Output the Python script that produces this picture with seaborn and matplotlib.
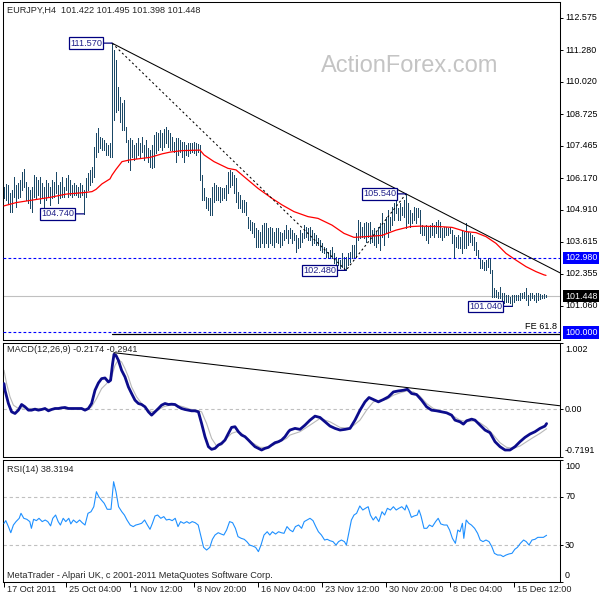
import numpy as np
import matplotlib
matplotlib.use("Agg")
import matplotlib.pyplot as plt
import seaborn as sns

sns.set_theme(style="white")
plt.rcParams["font.family"] = ["Liberation Sans", "DejaVu Sans"]

# ---------------- data ----------------
highs = [
    105.83, 105.94, 105.90, 105.56, 105.70, 106.23, 105.90, 105.96, 106.10, 106.43,
    106.52, 106.03, 105.83, 105.70, 105.83, 106.30, 106.23, 106.10, 106.23, 105.96,
    105.83, 106.10, 105.96, 105.83, 106.10, 106.03, 106.43, 105.90, 106.03, 106.23,
    105.83, 106.16, 106.30, 106.10, 105.90, 105.96, 105.90, 105.83, 105.96, 105.90,
    105.70, 106.16, 106.36, 106.50, 106.63, 107.43, 107.96, 108.16, 107.83, 107.76,
    107.70, 107.56, 107.50, 107.56, 111.57, 111.30, 110.90, 109.83, 109.43, 109.16,
    109.30, 108.23, 107.70, 107.76, 107.70, 107.50, 107.56, 107.76, 107.56, 107.83,
    107.50, 107.70, 107.36, 107.30, 107.50, 107.89, 108.03, 107.96, 108.10, 107.96,
    108.12, 108.23, 108.10, 107.96, 107.83, 107.63, 107.76, 107.76, 107.70, 107.63,
    107.63, 107.50, 107.56,
    107.59, 107.56, 107.63, 107.59, 107.53, 107.50, 106.29, 105.76, 105.43, 105.36,
    105.36, 105.83, 105.96, 105.89, 105.83, 105.83, 105.76, 105.76, 105.89, 106.43,
    106.50, 106.43, 106.29, 106.16, 105.63, 105.50, 105.29, 105.29, 105.23, 104.63,
    104.50, 104.43, 104.36, 104.16, 104.09, 104.03, 104.29, 104.36, 104.36, 104.16,
    104.23, 104.16, 104.03, 104.16, 104.16, 104.03, 103.96, 104.09, 104.29, 104.09,
    104.16, 104.09, 103.96, 103.89, 103.76, 104.09, 103.96, 104.29, 104.23, 104.16,
    104.23, 104.09, 103.96, 103.89, 103.76, 103.69, 103.56, 103.43, 103.36, 103.23,
    103.29, 103.43, 103.16, 103.03, 102.96, 102.89, 103.16, 103.03, 103.03, 103.16,
    103.23, 103.50, 103.50, 103.96, 104.50, 104.43, 104.23, 104.36, 104.43, 104.36,
    104.43, 104.09,
    104.16, 104.03, 104.23, 104.36, 104.76, 104.36, 104.63, 104.89, 104.63, 105.03,
    105.16, 105.43, 104.96, 105.16, 105.03, 105.29, 105.54, 105.16, 104.89, 104.76,
    105.03, 104.96, 104.96, 104.89, 104.29, 104.23, 104.29, 104.23, 104.29, 104.36,
    104.29, 104.43, 104.49, 104.43, 104.16, 104.23, 104.23, 104.16, 104.23, 104.09,
    103.89, 103.83, 103.89, 103.83, 104.09, 104.03, 104.36, 104.03, 103.96, 103.89,
    103.83, 103.63, 103.29, 102.96, 102.89, 102.83, 102.89, 102.96, 102.96, 102.49,
    101.76, 101.69, 101.63, 101.83, 101.56, 101.56, 101.49, 101.49, 101.43, 101.49,
    101.49, 101.49, 101.49, 101.56, 101.56, 101.63, 101.76, 101.49, 101.56, 101.56,
    101.49, 101.56, 101.59, 101.53, 101.49, 101.53, 101.49,
]
lows = [
    105.36, 105.30, 105.16, 104.80, 104.80, 105.43, 105.03, 105.36, 105.43, 105.70,
    105.83, 105.30, 105.16, 104.96, 104.83, 105.43, 105.36, 105.50, 105.16, 105.43,
    104.96, 105.30, 105.43, 105.10, 105.36, 105.43, 105.56, 105.16, 105.36, 105.43,
    105.43, 105.70, 105.43, 105.50, 105.43, 105.50, 105.50, 105.40, 105.43, 105.50,
    104.74, 105.43, 105.70, 105.90, 106.03, 106.23, 107.03, 107.23, 107.36, 107.30,
    107.30, 107.10, 107.10, 107.03, 107.03, 108.50, 108.83, 108.89, 108.43, 108.10,
    108.10, 107.63, 106.83, 106.50, 107.03, 106.89, 106.96, 107.10, 107.03, 107.23,
    106.89, 107.03, 106.83, 106.63, 106.56, 106.63, 107.16, 107.30, 107.43, 107.30,
    107.43, 107.56, 107.43, 107.30, 107.30, 107.23, 106.83, 107.10, 107.23, 107.03,
    106.83, 107.10, 107.06,
    107.16, 107.23, 107.16, 107.10, 107.23, 106.09, 105.29, 105.29, 104.96, 104.89,
    104.69, 104.69, 105.23, 105.29, 105.29, 105.23, 105.29, 105.36, 105.29, 105.56,
    105.83, 105.89, 105.56, 105.23, 104.96, 104.96, 104.83, 104.83, 104.69, 104.16,
    104.09, 103.96, 103.83, 103.43, 103.43, 103.43, 103.56, 103.43, 103.56, 103.43,
    103.56, 103.50, 103.43, 103.63, 103.56, 103.43, 103.50, 103.69, 103.76, 103.56,
    103.76, 103.56, 103.69, 103.23, 103.36, 103.43, 103.63, 103.76, 103.83, 103.69,
    103.69, 103.50, 103.56, 103.50, 103.50, 103.29, 103.23, 103.16, 103.03, 102.96,
    103.03, 102.96, 102.76, 102.63, 102.69, 102.56, 102.63, 102.50, 102.48, 102.69,
    102.83, 102.96, 102.96, 103.03, 103.69, 103.76, 103.83, 103.76, 103.63, 103.83,
    103.56, 103.63,
    103.50, 103.43, 103.56, 103.29, 103.83, 103.50, 103.96, 103.83, 104.09, 104.29,
    104.49, 104.76, 104.49, 104.49, 104.69, 104.63, 104.16, 104.36, 104.23, 104.36,
    104.49, 104.36, 104.63, 103.96, 103.89, 103.89, 103.69, 103.56, 103.83, 103.89,
    103.83, 103.96, 103.83, 103.83, 103.69, 103.83, 103.89, 103.89, 103.96, 103.56,
    102.96, 103.43, 103.36, 103.36, 103.16, 103.36, 103.36, 103.49, 103.63, 103.49,
    103.29, 103.09, 102.96, 102.56, 102.56, 102.49, 102.49, 102.63, 102.36, 101.43,
    101.43, 101.43, 101.36, 101.36, 101.23, 101.16, 101.23, 101.23, 101.16, 101.04,
    101.23, 101.29, 101.29, 101.29, 101.36, 101.36, 101.29, 101.09, 101.29, 101.36,
    101.29, 101.23, 101.29, 101.32, 101.36, 101.36, 101.40,
]

ma_bar = [0, 6, 14, 23, 31, 41, 44, 46, 49, 53, 54, 56, 59, 63, 73, 79, 83, 89, 98, 100,
          105, 112, 116, 120, 127, 134, 139, 145, 152, 157, 164, 170, 175, 181, 189, 196,
          203, 208, 218, 224, 231, 236, 241, 246, 251, 256, 261, 266, 270, 271]
ma_val = [105.06, 105.19, 105.29, 105.40, 105.53, 105.60, 105.63, 105.72, 105.94, 106.14,
          106.29, 106.52, 106.83, 106.90, 107.00, 107.14, 107.21, 107.27, 107.29, 107.10,
          106.83, 106.56, 106.50, 106.23, 105.76, 105.36, 105.10, 104.83, 104.63, 104.56,
          104.29, 103.96, 103.80, 103.83, 103.88, 104.09, 104.23, 104.25, 104.23, 104.20,
          104.03, 103.99, 103.83, 103.56, 103.16, 102.89, 102.63, 102.43, 102.30, 102.28]

macd_bar = [0, 0.5, 2.2, 3.8, 5.5, 7.2, 8.8, 10.5, 12.2, 13.8,
            15.5, 17.2, 18.8, 20.5, 22.2, 23.8, 25.5, 27.2, 28.8, 30.5,
            32.2, 33.8, 35.5, 37.2, 38.8, 40.5, 42.2, 43.8, 45.5, 47.2,
            48.8, 50.5, 52.2, 53.3, 54.3, 55.0, 56.0, 57.2, 58.8, 60.5,
            62.2, 63.8, 65.5, 67.2, 68.8, 70.5, 72.2, 73.8, 75.5, 77.2,
            78.8, 80.5, 82.2, 83.8, 85.5, 87.2, 88.8, 90.5, 92.2, 93.8,
            95.5, 97.2, 98.8, 100.5, 102.2, 103.8, 105.5, 107.2, 108.8, 110.5,
            112.2, 113.8, 115.5, 117.2, 118.8, 120.5, 122.2, 123.8, 125.5, 127.2,
            128.8, 130.5, 132.2, 133.8, 135.5, 137.2, 138.8, 140.5, 142.2,
            143, 145.5, 148, 150.5, 153, 155.5, 158, 160.5, 163, 165.5,
            168, 170.5, 173, 175.5, 178, 180.5,
            182.5, 184.7, 187.2, 189.7, 192.2, 194.7, 197.2, 199.7, 201.7, 203.8,
            206.3, 208.8, 211.3, 213.8, 216.3, 218.8, 221.3, 223.8, 225.5, 228,
            229.7, 231.3, 233.8, 235.5, 238, 240.5, 243, 245.5, 248, 250.5,
            253, 255.5, 258, 260.5, 263, 265.5, 268, 270.5, 271.3]
macd_val = [0.384, 0.284, 0.085, -0.040, -0.065, -0.015, 0.070, 0.035, -0.015, -0.015,
            0.0, -0.015, -0.005, 0.010, -0.025, -0.005, 0.010, 0.010, 0.020, 0.025,
            0.010, 0.010, 0.010, 0.010, 0.010, -0.015, 0.010, 0.085, 0.284, 0.394,
            0.459, 0.469, 0.409, 0.434, 0.684, 0.824, 0.808, 0.734, 0.584, 0.484,
            0.334, 0.235, 0.135, 0.085, 0.070, 0.035, -0.040, -0.090, -0.040, 0.010,
            0.060, 0.085, 0.070, 0.075, 0.070, 0.035, 0.010, -0.005, -0.015, -0.025,
            -0.025, -0.040, -0.215, -0.414, -0.564, -0.604, -0.589, -0.539, -0.514, -0.464,
            -0.364, -0.274, -0.264, -0.339, -0.389, -0.414, -0.464, -0.514, -0.564, -0.589,
            -0.614, -0.589, -0.574, -0.539, -0.504, -0.489, -0.464, -0.414, -0.339,
            -0.314, -0.289, -0.304, -0.240, -0.165, -0.105, -0.125, -0.190, -0.254, -0.289,
            -0.314, -0.304, -0.289, -0.165, -0.015, 0.110,
            0.175, 0.145, 0.110, 0.145, 0.185, 0.259, 0.274, 0.284, 0.299, 0.235,
            0.220, 0.135, 0.035, -0.015, -0.025, -0.040, -0.055, -0.090, -0.165, -0.190,
            -0.225, -0.175, -0.150, -0.165, -0.240, -0.314, -0.354, -0.489, -0.564, -0.614,
            -0.614, -0.564, -0.489, -0.424, -0.374, -0.339, -0.289, -0.254, -0.217]

sig_bar = [0, 1.3, 3, 4.7, 7.2, 9.7, 13, 18, 23, 28,
           33, 38, 41.3, 43.8, 46.3, 48.8, 51.3, 53.8, 55.5, 57.2,
           58.8, 60.5, 62.2, 63.8, 66.3, 68.8, 71.3, 73.8, 76.3, 79.7,
           83, 86.3, 89.7, 93, 96.3, 98.8, 101.3, 103.8, 106.3, 108.8,
           111.3, 113.8, 116.3, 118.8, 121.3, 124.7, 128, 131.3, 134.7, 138,
           141.3, 143, 148, 153, 158, 163, 168, 173, 178, 181.3,
           184.7, 188, 191.3, 194.7, 198, 201.3, 204.7, 208, 211.3, 214.7,
           218, 221.3, 224.7, 228, 231.3, 234.7, 238, 241.3, 244.7, 248,
           251.3, 254.7, 258, 261.3, 264.7, 268, 271.3]
sig_val = [0.584, 0.384, 0.185, 0.060, 0.010, 0.020, 0.010, 0.010, 0.0, 0.010,
           0.010, 0.010, 0.0, 0.035, 0.160, 0.309, 0.384, 0.484, 0.659, 0.744,
           0.709, 0.609, 0.484, 0.334, 0.185, 0.085, 0.010, -0.040, -0.025, 0.035,
           0.060, 0.060, 0.035, 0.0, -0.015, -0.040, -0.215, -0.439, -0.554, -0.539,
           -0.439, -0.364, -0.339, -0.364, -0.439, -0.514, -0.574, -0.574, -0.539, -0.489,
           -0.439, -0.389, -0.339, -0.240, -0.140, -0.190, -0.274, -0.289, -0.165, -0.015,
           0.110, 0.135, 0.145, 0.210, 0.245, 0.274, 0.259, 0.195, 0.085, 0.010,
           -0.025, -0.055, -0.105, -0.165, -0.190, -0.175, -0.205, -0.274, -0.389, -0.504,
           -0.574, -0.589, -0.554, -0.489, -0.424, -0.364, -0.294]

rsi_pts = [
    (0, 48.1), (0.9, 50.3), (2.2, 45.4), (3.4, 40.4), (4.7, 46.7), (6.0, 49.5), (7.6, 52.2),
    (8.5, 56.3), (9.9, 52.2), (11.4, 51.4), (12.9, 49.5), (13.7, 44.0), (14.8, 51.4),
    (16.2, 50.3), (17.5, 52.2), (19.1, 49.5), (20.6, 50.8), (21.9, 49.5), (23.3, 46.0),
    (24.4, 52.2), (25.8, 54.9), (27.1, 49.5), (28.2, 46.7), (29.6, 52.2), (30.9, 49.5),
    (32.4, 52.2), (33.4, 47.6), (34.7, 50.8), (36.3, 48.6), (37.8, 50.8), (39.1, 48.6),
    (40.5, 46.7), (42.0, 56.3), (43.5, 57.6), (44.9, 61.7), (46.2, 74.0), (47.4, 69.9),
    (48.7, 67.2), (50.1, 64.5), (51.6, 59.6), (53.5, 59.6), (54.8, 82.2), (56.0, 74.0),
    (57.3, 61.7), (58.9, 57.6), (60.2, 54.9), (61.5, 50.8), (63.1, 46.7), (64.6, 45.4),
    (65.9, 46.7), (67.3, 47.3), (68.8, 48.1), (70.3, 50.8), (71.7, 46.7), (73.0, 43.2),
    (74.2, 48.1), (75.5, 54.1), (76.8, 54.9), (78.4, 52.2), (79.9, 53.6), (81.2, 50.8),
    (82.6, 51.4), (84.1, 50.3), (85.6, 52.2), (87.0, 45.4), (88.3, 49.5), (89.9, 48.1),
    (91.4, 49.5), (92.7, 48.1), (94.1, 49.5), (95.6, 48.6), (97.1, 46.7), (98.5, 37.2),
    (99.8, 28.4), (101.3, 26.2), (102.9, 28.4), (104.2, 35.0), (105.5, 38.5), (107.1, 40.4),
    (108.6, 39.3), (109.9, 38.5), (111.3, 42.6), (112.8, 49.5), (114.3, 48.6), (115.7, 44.0),
    (117.0, 37.2), (118.6, 35.8), (120.1, 35.0), (121.4, 33.1), (122.8, 30.3), (124.3, 29.5),
    (125.8, 28.4), (127.2, 24.9), (128.5, 30.3), (130.0, 38.5), (131.6, 41.2), (132.9, 38.5),
    (134.2, 41.2), (135.8, 39.3), (137.3, 41.2), (138.6, 40.4), (140.0, 39.9), (141.5, 45.4),
    (143.0, 42.6), (144.4, 41.2), (145.7, 45.4), (147.3, 46.7), (148.8, 44.0), (150.1, 49.5),
    (151.5, 50.8), (153.0, 52.2), (154.5, 50.3), (155.9, 45.4), (157.2, 41.2), (158.7, 38.5),
    (160.3, 34.4), (161.6, 35.0), (162.9, 33.9), (164.5, 33.1), (166.0, 30.3), (167.3, 33.1),
    (168.7, 34.4), (170.2, 33.1), (171.2, 30.3), (172.5, 41.2), (173.7, 50.8), (175.0, 54.9),
    (176.3, 56.3), (177.9, 62.3), (179.4, 59.0), (180.7, 60.4), (182.1, 61.7), (183.2, 54.9),
    (184.6, 50.8), (185.9, 53.6), (187.4, 49.5), (189.0, 57.6), (190.3, 54.9), (191.7, 60.4),
    (193.2, 59.0), (194.7, 61.7), (196.1, 59.0), (197.4, 60.4), (198.9, 61.7), (200.5, 59.0),
    (201.2, 63.1), (202.4, 59.0), (203.7, 53.0), (205.0, 54.1), (206.6, 54.9), (207.5, 59.0),
    (208.5, 54.1), (210.0, 44.0), (211.4, 44.0), (212.7, 46.7), (214.2, 45.4), (215.8, 49.5),
    (217.1, 52.2), (218.4, 47.6), (220.0, 46.7), (221.5, 46.7), (222.8, 42.6), (224.2, 35.8),
    (225.7, 31.7), (226.9, 42.6), (228.0, 41.2), (229.2, 48.1), (229.9, 35.8), (231.1, 50.8),
    (232.4, 48.1), (233.7, 46.7), (235.3, 44.0), (236.8, 39.9), (238.1, 34.4), (239.5, 33.1),
    (241.0, 34.4), (242.5, 33.1), (243.9, 29.0), (245.2, 23.5), (246.8, 22.1), (248.3, 22.1),
    (249.6, 20.8), (251.0, 22.1), (252.5, 23.0), (254.0, 23.5), (255.4, 26.8), (256.7, 28.4),
    (258.2, 31.7), (259.8, 34.4), (261.1, 33.1), (262.5, 30.3), (264.0, 34.4), (265.5, 35.0),
    (266.9, 36.6), (268.2, 36.6), (269.7, 36.6), (271.3, 38.3),
]
rsi_bar = [p[0] for p in rsi_pts]
rsi_val = [p[1] for p in rsi_pts]

date_bar = [0, 31, 63, 95, 127, 159, 191, 223, 255]
date_lbl = ["17 Oct 2011", "25 Oct 04:00", "1 Nov 12:00", "8 Nov 20:00", "16 Nov 04:00",
            "23 Nov 12:00", "30 Nov 20:00", "8 Dec 04:00", "15 Dec 12:00"]
price_ticks = [112.575, 111.280, 110.020, 108.725, 107.465, 106.170, 104.910, 103.615,
               102.355, 101.060]
swing_bar = [54, 40, 171, 201, 254]
swing_kind = ["high", "low", "low", "high", "low"]
blue_levels = [102.980, 100.000]
bid_price = 101.448
fe_ratio = 0.618
macd_ticks = [1.002, 0.0, -0.7191]
macd_tick_lbl = ["1.002", "0.00", "-0.7191"]
rsi_levels = [70, 30]
rsi_ticks = [100, 70, 30, 0]

title_txt = "EURJPY,H4  101.422 101.495 101.398 101.448"
macd_txt = "MACD(12,26,9) -0.2174 -0.2941"
rsi_txt = "RSI(14) 38.3194"
footer_txt = "MetaTrader - Alpari UK, c 2001-2011 MetaQuotes Software Corp."
watermark = "ActionForex.com"

# ---------------- figure ----------------
BAR_C = "#1b4866"
FS = 6.6
LFS = 6.4
fig = plt.figure(figsize=(6, 6), dpi=100)
fig.patch.set_facecolor("white")


def px_axes(x0, y0, x1, y1):
    return fig.add_axes([x0 / 600, 1 - y1 / 600, (x1 - x0) / 600, (y1 - y0) / 600])


ax_p = px_axes(3, 2, 560, 340)
ax_m = px_axes(3, 342.5, 560, 457)
ax_r = px_axes(3, 460, 560, 582)
XR = (-0.5, 278)

for ax in (ax_p, ax_m, ax_r):
    ax.set_facecolor("white")
    ax.set_xlim(*XR)
    for s in ax.spines.values():
        s.set_visible(True)
        s.set_color("black")
        s.set_linewidth(0.75)
    ax.grid(False)
    ax.set_xticks([])
    ax.tick_params(axis="y", left=False, right=True, labelleft=False, labelright=False,
                   direction="out", length=2.2, width=0.7, color="black")
    ax.set_xlabel("")
    ax.set_ylabel("")


def rlab(ax, y, s, va="center", dy=0, fc=None, tc="black"):
    kw = {}
    if fc is not None:
        kw["bbox"] = dict(boxstyle="square,pad=0.2", fc=fc, ec=fc, lw=0)
    ax.annotate(s, xy=(1, y), xycoords=("axes fraction", "data"), xytext=(5, dy),
                textcoords="offset pixels", ha="left", va=va, fontsize=LFS, color=tc,
                annotation_clip=False, **kw)


# ---- price panel ----
ax_p.set_ylim(99.695, 113.215)
n = len(highs)
ax_p.vlines(np.arange(n), lows, highs, colors=BAR_C, linewidth=0.55, zorder=3,
            antialiased=False)
sns.lineplot(x=ma_bar, y=ma_val, ax=ax_p, color="#ff0000", linewidth=0.9,
             estimator=None, sort=False, zorder=4, legend=False)

for lv in blue_levels:
    ax_p.axhline(lv, color="#0000ff", linewidth=0.8, linestyle=(0, (2.5, 2)), zorder=5)
ax_p.axhline(bid_price, color="#c0c0c0", linewidth=0.8, zorder=2)

pts = []
for b, k in zip(swing_bar, swing_kind):
    pts.append((b, highs[b] if k == "high" else lows[b]))
A, B, C = pts[0], pts[2], pts[3]
slope = (C[1] - A[1]) / (C[0] - A[0])
ax_p.plot([A[0], XR[1]], [A[1], A[1] + slope * (XR[1] - A[0])], color="black", lw=0.75, zorder=5)
ax_p.plot([A[0], B[0], C[0]], [A[1], B[1], C[1]], color="black", lw=0.75,
          linestyle=(0, (2, 2.5)), zorder=5)
fe = C[1] - fe_ratio * (A[1] - B[1])
ax_p.plot([A[0], XR[1]], [fe, fe], color="black", lw=0.9, zorder=5)
ax_p.annotate("FE 61.8", xy=(XR[1], fe), xytext=(-3, 3), textcoords="offset pixels",
              ha="right", va="bottom", fontsize=FS, color="black")

for (b, v) in pts:
    ax_p.annotate(f"{v:.3f}", xy=(b, v), xytext=(-10, 0), textcoords="offset pixels",
                  ha="right", va="center", fontsize=FS, color="#22228a", zorder=7,
                  bbox=dict(boxstyle="square,pad=0.15", fc="white", ec="#000080", lw=0.9),
                  arrowprops=dict(arrowstyle="-", color="#000080", lw=0.9,
                                  shrinkA=0, shrinkB=0))

ax_p.set_yticks(price_ticks)
ax_p.set_yticklabels([])
for t in price_ticks:
    rlab(ax_p, t, f"{t:.3f}")
rlab(ax_p, blue_levels[0], f"{blue_levels[0]:.3f}", fc="#0000ff", tc="white")
rlab(ax_p, bid_price, f"{bid_price:.3f}", fc="black", tc="white")
rlab(ax_p, blue_levels[1], f"{blue_levels[1]:.3f}", fc="#0000ff", tc="white")

fig.text(7 / 600, 1 - 10 / 600, title_txt, fontsize=FS, va="center", ha="left")
fig.text(410 / 600, 1 - 66 / 600, watermark, fontsize=17, color="#c4c4c4",
         va="center", ha="center")

# ---- MACD panel ----
ax_m.set_ylim(-0.7191, 1.002)
ax_m.axhline(0, color="#c0c0c0", linewidth=0.8, linestyle=(0, (3, 2.5)), zorder=1)
sns.lineplot(x=sig_bar, y=sig_val, ax=ax_m, color="#b8b8b8", linewidth=0.8,
             estimator=None, sort=False, legend=False, zorder=2)
sns.lineplot(x=macd_bar, y=macd_val, ax=ax_m, color="#0c0c8c", linewidth=2.0,
             estimator=None, sort=False, legend=False, zorder=3)
mb = np.array(macd_bar)
mv = np.array(macd_val)
i1 = int(np.argmax(mv))
late = mb > 150
i2 = int(np.where(late)[0][np.argmax(mv[late])])
edge = 0.025
m_slope = (mv[i2] - mv[i1]) / (mb[i2] - mb[i1])
ax_m.plot([mb[i1], XR[1]], [mv[i1] + edge, mv[i1] + edge + m_slope * (XR[1] - mb[i1])],
          color="black", lw=0.75, zorder=4)
ax_m.set_yticks(macd_ticks)
ax_m.set_yticklabels([])
rlab(ax_m, macd_ticks[0], macd_tick_lbl[0], va="top", dy=-2)
rlab(ax_m, macd_ticks[1], macd_tick_lbl[1])
rlab(ax_m, macd_ticks[2], macd_tick_lbl[2], va="bottom", dy=2)
fig.text(7 / 600, 1 - 350 / 600, macd_txt, fontsize=FS, va="center", ha="left", zorder=10)

# ---- RSI panel ----
ax_r.set_ylim(0, 100)
for lv in rsi_levels:
    ax_r.axhline(lv, color="#c0c0c0", linewidth=0.8, linestyle=(0, (3, 2.5)), zorder=1)
sns.lineplot(x=rsi_bar, y=rsi_val, ax=ax_r, color="#1e90ff", linewidth=0.8,
             estimator=None, sort=False, legend=False, zorder=3)
ax_r.set_yticks(rsi_ticks)
ax_r.set_yticklabels([])
rlab(ax_r, 100, "100", va="top", dy=-2)
rlab(ax_r, 70, "70")
rlab(ax_r, 30, "30")
rlab(ax_r, 0, "0", va="bottom", dy=2)
fig.text(7 / 600, 1 - 470 / 600, rsi_txt, fontsize=FS, va="center", ha="left")
fig.text(7 / 600, 1 - 575 / 600, footer_txt, fontsize=FS, va="center", ha="left")

ax_r.set_xticks(date_bar)
ax_r.set_xticklabels([])
ax_r.tick_params(axis="x", bottom=True, labelbottom=False, direction="out",
                 length=3.5, width=0.7, color="black")
for b, s in zip(date_bar, date_lbl):
    ax_r.annotate(s, xy=(b, 0), xycoords=("data", "axes fraction"), xytext=(3, -3),
                  textcoords="offset pixels", ha="left", va="top", fontsize=FS,
                  annotation_clip=False)

fig.savefig("out.png", dpi=100, facecolor="white")
